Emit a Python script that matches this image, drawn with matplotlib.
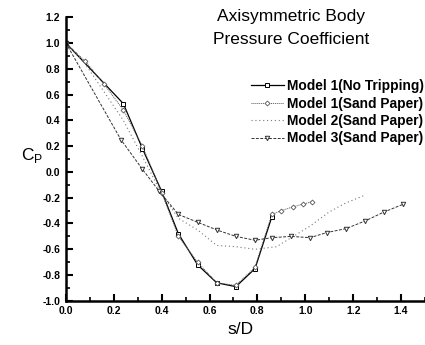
import matplotlib
matplotlib.use("Agg")
import matplotlib.pyplot as plt
from matplotlib.ticker import MultipleLocator

plt.rcParams['font.family'] = ['Liberation Sans', 'DejaVu Sans']

# Data
s_m1_nt = [0.0, 0.24, 0.32, 0.40, 0.47, 0.55, 0.63, 0.71, 0.79, 0.86]
cp_m1_nt = [1.0, 0.53, 0.18, -0.15, -0.48, -0.72, -0.86, -0.89, -0.75, -0.35]

s_m1_sp = [0.0, 0.08, 0.16, 0.24, 0.32, 0.40, 0.47, 0.55, 0.63, 0.71, 0.79, 0.86, 0.90, 0.95, 0.99, 1.03]
cp_m1_sp = [1.0, 0.86, 0.68, 0.48, 0.20, -0.16, -0.50, -0.70, -0.86, -0.88, -0.74, -0.33, -0.30, -0.27, -0.25, -0.23]

s_m2_sp = [0.0, 0.08, 0.16, 0.24, 0.32, 0.40, 0.47, 0.55, 0.63, 0.71, 0.79, 0.88, 0.95, 1.02, 1.10, 1.17, 1.25]
cp_m2_sp = [1.0, 0.84, 0.62, 0.40, 0.12, -0.17, -0.36, -0.45, -0.57, -0.58, -0.60, -0.58, -0.50, -0.42, -0.31, -0.24, -0.18]

s_m3_sp = [0.0, 0.23, 0.32, 0.39, 0.47, 0.55, 0.63, 0.71, 0.79, 0.86, 0.94, 1.02, 1.09, 1.17, 1.25, 1.33, 1.41]
cp_m3_sp = [1.0, 0.25, 0.02, -0.15, -0.33, -0.39, -0.45, -0.50, -0.53, -0.51, -0.50, -0.51, -0.47, -0.44, -0.38, -0.31, -0.25]

labels = ["Model 1(No Tripping)", "Model 1(Sand Paper)", "Model 2(Sand Paper)", "Model 3(Sand Paper)"]

fig = plt.figure(figsize=(4.25, 3.45), dpi=100)
ax = fig.add_axes([0.155, 0.128, 0.845, 0.822])

ax.plot(s_m1_nt, cp_m1_nt, '-', color='black', lw=0.9, marker='s', ms=3.2,
        mfc='white', mec='black', mew=0.7, label=labels[0])
ax.plot(s_m1_sp, cp_m1_sp, linestyle=(0, (1, 1)), color='#555555', lw=0.7, marker='D', ms=2.5,
        mfc='white', mec='#555555', mew=0.6, label=labels[1])
ax.plot(s_m2_sp, cp_m2_sp, linestyle=(0, (1, 2.5)), color='#777777', lw=0.8, label=labels[2])
ax.plot(s_m3_sp, cp_m3_sp, linestyle=(0, (3, 1.5)), color='#333333', lw=0.7, marker='v', ms=3.2,
        mfc='white', mec='#333333', mew=0.7, label=labels[3])

ax.set_xlim(0, 1.5)
ax.set_ylim(-1.0, 1.2)
ax.xaxis.set_minor_locator(MultipleLocator(0.1))
ax.yaxis.set_minor_locator(MultipleLocator(0.1))
xt = [0.0, 0.2, 0.4, 0.6, 0.8, 1.0, 1.2, 1.4]
yt = [-1.0, -0.8, -0.6, -0.4, -0.2, 0.0, 0.2, 0.4, 0.6, 0.8, 1.0, 1.2]
ax.set_xticks(xt)
ax.set_xticklabels(['%.1f' % v for v in xt])
ax.set_yticks(yt)
ax.set_yticklabels(['%.1f' % v for v in yt])

ax.tick_params(which='major', direction='in', length=5, width=1.5, labelsize=7.5, pad=4)
ax.tick_params(which='minor', direction='in', length=3, width=1.2)
for lab in ax.get_xticklabels() + ax.get_yticklabels():
    lab.set_fontweight('bold')

ax.spines['top'].set_visible(False)
ax.spines['right'].set_visible(False)
ax.spines['left'].set_linewidth(1.8)
ax.spines['bottom'].set_linewidth(1.8)

fig.text(0.075, 0.55, r'C$_\mathregular{P}$', fontsize=12.5, ha='center', va='center')
fig.text(0.565, 0.045, 's/D', fontsize=12.5, ha='center', va='center')
fig.text(0.685, 1 - 16/345, 'Axisymmetric Body', fontsize=12.5, ha='center', va='center')
fig.text(0.685, 1 - 39/345, 'Pressure Coefficient', fontsize=12.5, ha='center', va='center')

leg = ax.legend(loc='upper right', bbox_to_anchor=(0.998, 0.782), frameon=False,
                fontsize=9.9, handlelength=2.4, handletextpad=0.25, labelspacing=0.25,
                borderaxespad=0, borderpad=0)
for t in leg.get_texts():
    t.set_fontweight('bold')

fig.savefig('out.png', dpi=100)
